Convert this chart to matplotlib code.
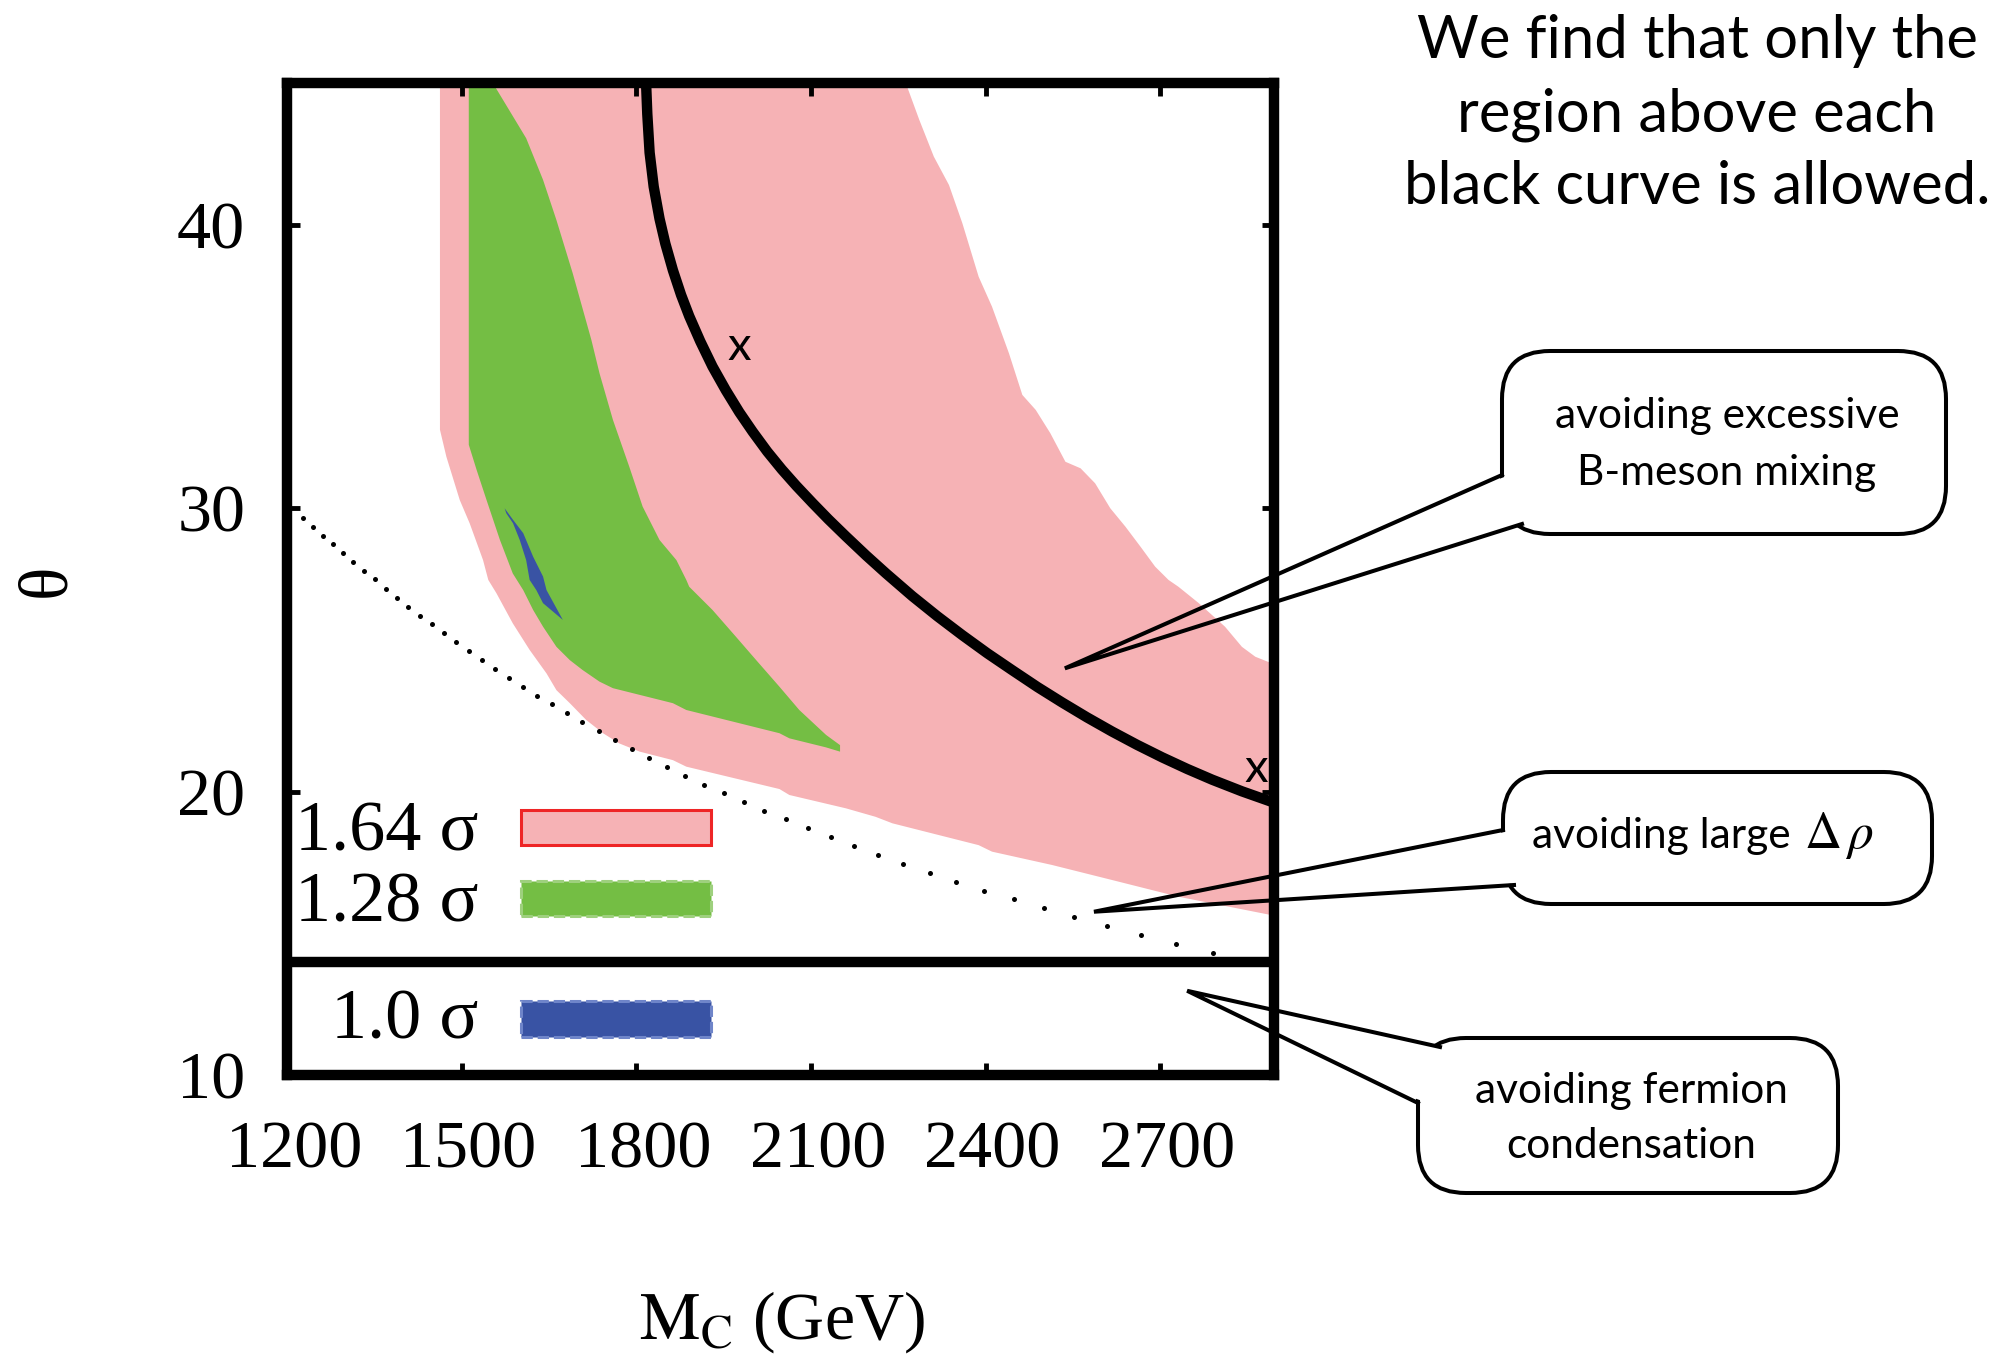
import numpy as np
import matplotlib
matplotlib.use("Agg")
import matplotlib.pyplot as plt
import matplotlib.transforms as mtransforms
from matplotlib.patches import Polygon, FancyBboxPatch, Rectangle

plt.rcParams['mathtext.fontset'] = 'stix'

W, H = 1993, 1360
SERIF = 'Liberation Serif'
SANS = 'Lato'
PINK, GREEN, BLUE = '#F6B2B5', '#74BE44', '#3953A4'

# 1.64 sigma allowed region (M_C [GeV], theta [deg])
pink_m = [1463, 1463, 1474, 1497, 1514, 1537, 1546, 1560, 1588, 1617, 1646, 1663,
          1686, 1714, 1743, 1771, 1806, 1863, 1886, 2046, 2063, 2160, 2211, 2240,
          2388, 2411, 2514, 2617, 2731, 2891, 2900, 2900, 2891, 2863, 2840, 2811,
          2766, 2731, 2714, 2691, 2666, 2640, 2614, 2588, 2563, 2537, 2511, 2486,
          2463, 2440, 2411, 2388, 2360, 2337, 2311, 2286, 2263, 2260]
pink_th = [45.5, 32.77, 31.82, 30.29, 29.47, 28.17, 27.47, 27.0, 25.94, 25.0, 24.17, 23.58,
           23.12, 22.53, 22.06, 21.70, 21.41, 21.11, 20.88, 20.09, 19.88, 19.41, 19.11, 18.88,
           18.11, 17.88, 17.41, 16.88, 16.29, 15.64, 15.6, 24.5, 24.53, 24.76, 25.11, 25.82,
           26.65, 27.23, 27.47, 27.94, 28.64, 29.35, 30.0, 30.88, 31.41, 31.64, 32.65, 33.47,
           34.0, 35.47, 37.11, 38.17, 40.06, 41.41, 42.41, 43.71, 45.0, 45.5]

# 1.28 sigma region
green_m = [1512.5, 1512.5, 1526, 1543, 1566, 1588, 1606, 1623, 1640, 1663, 1686, 1708,
           1737, 1760, 1863, 1886, 2046, 2063, 2126, 2150, 2150, 2126, 2080, 2046,
           2006, 1971, 1931, 1891, 1886, 1869, 1840, 1811, 1788, 1760, 1737, 1723,
           1691, 1663, 1640, 1611, 1554, 1551]
green_th = [45.5, 32.24, 31.35, 30.29, 28.88, 27.70, 27.11, 26.41, 25.82, 25.11, 24.64, 24.29,
            23.88, 23.65, 23.12, 22.88, 22.06, 21.88, 21.56, 21.41, 21.64, 22.0, 22.88, 23.70,
            24.64, 25.47, 26.41, 27.23, 27.47, 28.17, 28.88, 30.06, 31.47, 33.12, 34.76, 35.94,
            38.29, 40.17, 41.59, 43.06, 45.0, 45.5]

# 1.0 sigma region
blue_m = [1574, 1588.5, 1606, 1623, 1640, 1646, 1674, 1640, 1628.5, 1617, 1611, 1600,
          1588.5, 1577]
blue_th = [30.0, 29.59, 29.12, 28.29, 27.59, 27.11, 26.06, 26.65, 27.11, 27.47, 28.17, 28.88,
           29.47, 29.82]

# B-meson mixing bound
curve_m = [1816, 1819, 1823, 1830, 1840, 1850, 1863, 1877, 1891, 1910, 1931, 1954,
           1977, 2000, 2025, 2050, 2075, 2103, 2130, 2160, 2195, 2229, 2274, 2317,
           2360, 2403, 2446, 2489, 2531, 2574, 2617, 2660, 2703, 2746, 2789, 2840,
           2891, 2900]
curve_th = [45.5, 43.92, 42.55, 41.35, 40.22, 39.34, 38.40, 37.53, 36.78, 35.89, 35.0, 34.16,
            33.39, 32.70, 32.00, 31.37, 30.79, 30.18, 29.61, 29.01, 28.33, 27.70, 26.90, 26.19,
            25.52, 24.88, 24.28, 23.69, 23.15, 22.62, 22.12, 21.65, 21.21, 20.80, 20.42, 20.01,
            19.64, 19.58]

# Delta rho bound (sampled points)
dot_m = [1228.5, 1245.7, 1262.8, 1279.9, 1297.1, 1314.2, 1332.5, 1351.4, 1369.7, 1388.5,
         1408.5, 1428.5, 1448.5, 1469.7, 1491.4, 1513.1, 1535.4, 1558.2, 1581.7, 1605.7,
         1630.2, 1655.4, 1681.1, 1707.4, 1735.4, 1764.0, 1793.1, 1822.8, 1853.1, 1884.5,
         1917.1, 1950.2, 1984.5, 2020.0, 2057.1, 2095.4, 2133.6, 2174.2, 2215.9, 2258.8,
         2303.9, 2349.7, 2397.6, 2448.0, 2499.4, 2552.5, 2609.1, 2666.8, 2727.4, 2790.8]
dot_th = [29.67, 29.35, 29.03, 28.73, 28.41, 28.09, 27.79, 27.50, 27.15, 26.84,
          26.53, 26.21, 25.90, 25.59, 25.27, 24.96, 24.64, 24.33, 24.02, 23.70,
          23.38, 23.08, 22.76, 22.44, 22.14, 21.82, 21.50, 21.20, 20.88, 20.56,
          20.25, 19.94, 19.62, 19.33, 19.02, 18.70, 18.38, 18.08, 17.76, 17.44,
          17.14, 16.82, 16.50, 16.20, 15.88, 15.56, 15.25, 14.94, 14.62, 14.31]

# points marked "x" on the curve
x_m = [1977, 2864]
x_th = [35.7, 20.8]

fermion_th = 14.0

x_ticks = [1200, 1500, 1800, 2100, 2400, 2700]
y_ticks = [10, 20, 30, 40]

legend_labels = ['1.64 σ', '1.28 σ', '1.0 σ']

fig = plt.figure(figsize=(W / 100, H / 100), dpi=100)
ax = fig.add_axes([0.1439, 0.2096, 0.4953, 0.7292])

ax.fill(pink_m, pink_th, color=PINK, lw=0, zorder=1)
ax.fill(green_m, green_th, color=GREEN, lw=0, zorder=2)
ax.fill(blue_m, blue_th, color=BLUE, lw=0, zorder=3)
ax.plot(curve_m, curve_th, color='k', lw=7.5, solid_joinstyle='round', zorder=4)
ax.plot(dot_m, dot_th, ls='none', marker='o', ms=3.6, mew=0, color='k', zorder=4)
ax.axhline(fermion_th, color='k', lw=7.5, zorder=5)
for m, th in zip(x_m, x_th):
    ax.text(m, th, 'x', family=SANS, fontsize=34, ha='center', va='center', zorder=6)

ax.set_xlim(1200, 2895)
ax.set_ylim(10, 45)
ax.set_xticks(x_ticks)
ax.set_yticks(y_ticks)
for s in ax.spines.values():
    s.set_linewidth(7.5)
    s.set_zorder(10)
ax.tick_params(direction='in', top=True, right=True, length=9, width=3.5)
ax.tick_params(axis='x', pad=33)
ax.tick_params(axis='y', pad=30)
shift = mtransforms.ScaledTranslation(5 / 72, 0, fig.dpi_scale_trans)
for lab in ax.get_xticklabels():
    lab.set_family(SERIF)
    lab.set_fontsize(49)
    lab.set_transform(lab.get_transform() + shift)
for lab in ax.get_yticklabels():
    lab.set_family(SERIF)
    lab.set_fontsize(49)

# legend swatches
sw = [(0.2317, PINK, '#EE2526', '-'), (0.1603, GREEN, '#9ED07E', '--'),
      (0.0386, BLUE, '#6F85C9', '--')]
txt_y = [0.226, 0.1546, 0.0363]
for (y0, fc, ec, ls), ty, lab in zip(sw, txt_y, legend_labels):
    ax.add_patch(Rectangle((0.2373, y0), 0.1923, 0.0355, transform=ax.transAxes,
                           facecolor=fc, edgecolor=ec, lw=2.2, ls=ls, zorder=6))
    ax.text(0.194, ty, lab, transform=ax.transAxes, family=SERIF, fontsize=52,
            ha='right', va='baseline', zorder=6)

# overlay in pixel coordinates for labels and callouts
ov = fig.add_axes([0, 0, 1, 1])
ov.set_xlim(0, W)
ov.set_ylim(H, 0)
ov.axis('off')

def to_px(m, th):
    d = ax.transData.transform((m, th))
    return ov.transData.inverted().transform(d)

ov.text(782, 1322, r'$\mathrm{M_C}$ (GeV)', family=SERIF, fontsize=49,
        ha='center', va='center')
ov.text(48, 580, 'θ', family=SERIF, fontsize=50, rotation=90,
        ha='center', va='center')

title = ['We find that only the', 'region above each', 'black curve is allowed.']
for i, line in enumerate(title):
    ov.text(1697, 58 + 73 * i, line, family=SANS, fontsize=43,
            ha='center', va='baseline')

# callouts: box (x0, y0, x1, y1), tail attach points, target in data coords
callouts = [
    ((1502, 351, 1946, 534), (1502, 475), (1522, 524), (2536, 24.35),
     ['avoiding excessive', 'B-meson mixing'], [428, 485]),
    ((1503, 772, 1932, 904), (1503, 830), (1514, 885), (2586, 15.76),
     [], []),
    ((1418, 1038, 1838, 1193), (1440, 1047), (1418, 1103), (2746, 12.97),
     ['avoiding fermion', 'condensation'], [1103, 1158]),
]
for (x0, y0, x1, y1), a1, a2, tgt, lines, bases in callouts:
    box = FancyBboxPatch((x0, y0), x1 - x0, y1 - y0,
                         boxstyle='round,pad=0,rounding_size=48',
                         facecolor='white', edgecolor='k', lw=2.9, zorder=1)
    ov.add_patch(box)
    apex = to_px(*tgt)
    cx, cy = (x0 + x1) / 2, (y0 + y1) / 2
    pts = []
    for a in (a1, a2):
        a = np.array(a, float)
        v = np.array([cx, cy]) - a
        v /= np.hypot(*v)
        pts.append((a + 12 * v, a + 0.12 * (apex - a)))
    erase = Polygon([pts[0][1], pts[0][0], pts[1][0], pts[1][1]], closed=True,
                    facecolor='white', edgecolor='none', zorder=2)
    ov.add_patch(erase)
    ov.plot([a1[0], apex[0], a2[0]], [a1[1], apex[1], a2[1]], color='k', lw=2.9,
            solid_joinstyle='miter', zorder=3)
    for line, b in zip(lines, bases):
        ov.text(cx + 3, b, line, family=SANS, fontsize=30.5, ha='center',
                va='baseline', zorder=4)

# the Delta rho label mixes text and a larger math symbol
ov.text(1532, 848, 'avoiding large', family=SANS, fontsize=30.5,
        ha='left', va='baseline', zorder=4)
ov.text(1804, 848, r'$\Delta\,\rho$', fontsize=37, ha='left', va='baseline', zorder=4)

fig.savefig('out.png', dpi=100)
